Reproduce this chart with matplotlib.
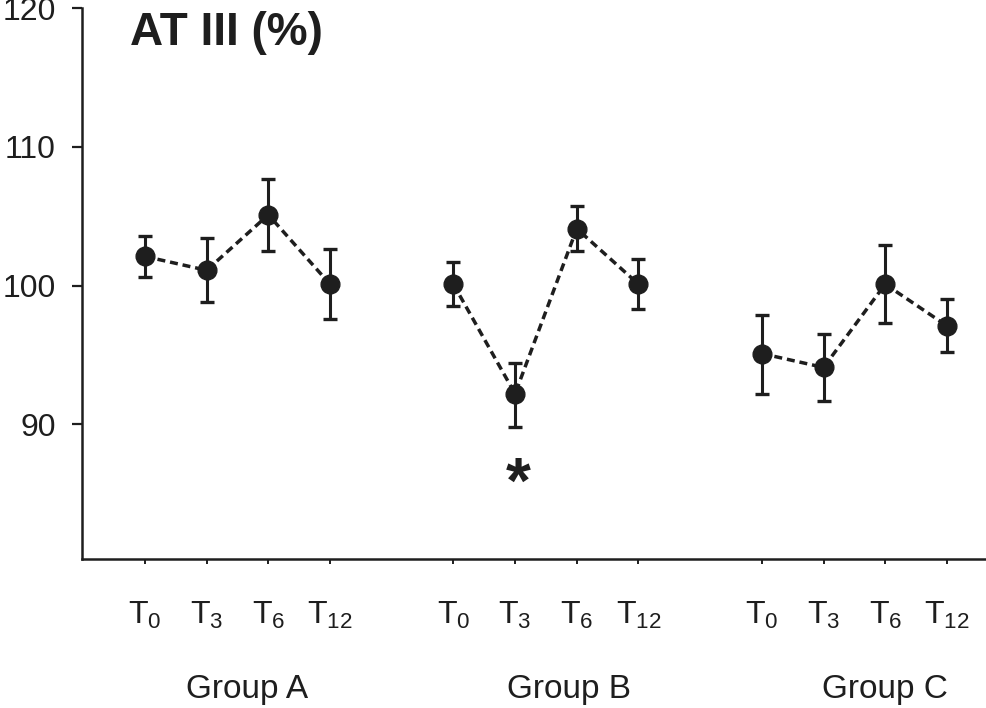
import numpy as np
import matplotlib
matplotlib.use("Agg")
import matplotlib.pyplot as plt

plt.rcParams['font.family'] = ['Liberation Sans', 'DejaVu Sans']
plt.rcParams['mathtext.fontset'] = 'custom'
plt.rcParams['mathtext.rm'] = 'Liberation Sans'
plt.rcParams['mathtext.it'] = 'Liberation Sans'
plt.rcParams['mathtext.bf'] = 'Liberation Sans:bold'

groups = ["Group A", "Group B", "Group C"]
times = ["0", "3", "6", "12"]

# AT III (%) mean and error bar ends per group, T0 T3 T6 T12
meanA = [102.1, 101.1, 105.1, 100.1]
lowA = [100.6, 98.8, 102.5, 97.6]
highA = [103.6, 103.45, 107.7, 102.6]

meanB = [100.1, 92.2, 104.1, 100.1]
lowB = [98.5, 89.8, 102.5, 98.3]
highB = [101.7, 94.4, 105.7, 101.9]

meanC = [95.1, 94.1, 100.1, 97.1]
lowC = [92.2, 91.7, 97.3, 95.2]
highC = [97.9, 96.5, 102.9, 99.0]

means = [meanA, meanB, meanC]
lows = [lowA, lowB, lowC]
highs = [highA, highB, highC]

ink = "#1e1e1e"
group_label_x = [1.66, 6.87, 11.99]

fig = plt.figure(figsize=(9.87, 7.08), dpi=100)
ax = fig.add_axes([0.0831, 0.2105, 0.9169, 0.7782])

xticks = []
xlabels = []
for g in range(len(groups)):
    x = np.arange(len(times)) + g * 5
    m = np.array(means[g])
    lo = m - np.array(lows[g])
    hi = np.array(highs[g]) - m
    ax.errorbar(x, m, yerr=[lo, hi], fmt='none', ecolor=ink,
                elinewidth=2.2, capsize=5, capthick=2.4, zorder=2)
    ax.plot(x, m, color=ink, lw=2.5, linestyle=(0, (2.3, 1.4)),
            marker='o', markersize=13.5, markerfacecolor=ink,
            markeredgecolor=ink, zorder=3)
    xticks.extend(x)
    xlabels.extend([r'$\mathrm{T_{%s}}$' % t for t in times])
    ax.text(group_label_x[g], -0.252, groups[g], transform=ax.get_xaxis_transform(),
            ha='center', va='baseline', fontsize=24, color=ink)

# significance mark under Group B T3
ax.text(6.05, 85.6, "*", ha='center', va='center', fontsize=46,
        fontweight='bold', color=ink)

ax.set_xlim(-1.02, 13.65)
ax.set_ylim(80.3, 120)
ax.set_yticks([90, 100, 110, 120])
ax.set_xticks(xticks)
ax.set_xticklabels(xlabels, fontsize=23, color=ink)
ax.tick_params(axis='y', labelsize=23, length=7, width=1.6, pad=12, colors=ink)
ax.tick_params(axis='x', length=3.6, width=1.4, pad=26, colors=ink)

for s in ['top', 'right']:
    ax.spines[s].set_visible(False)
for s in ['left', 'bottom']:
    ax.spines[s].set_linewidth(1.8)
    ax.spines[s].set_color(ink)

ax.text(0.053, 0.933, "AT III (%)", transform=ax.transAxes, ha='left',
        va='baseline', fontsize=33, fontweight='bold', color=ink)

fig.savefig("out.png", dpi=100)
